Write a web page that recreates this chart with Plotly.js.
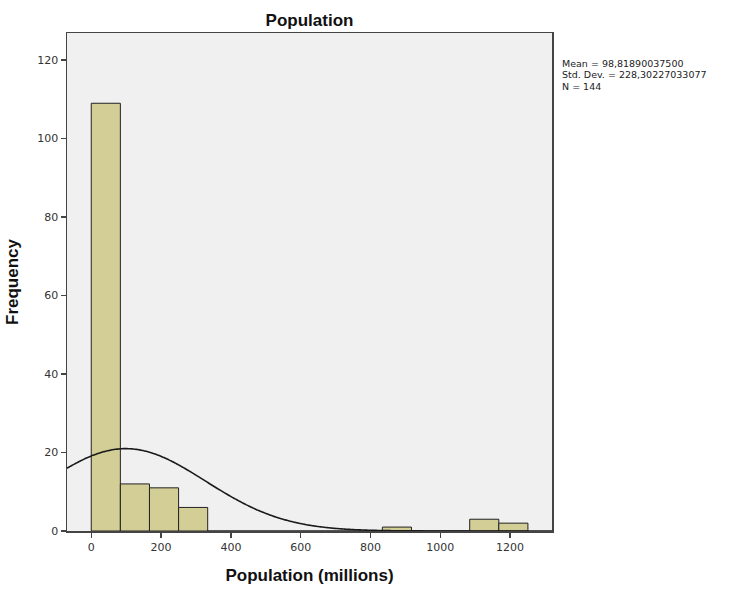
<!DOCTYPE html>
<html>
<head>
<meta charset="utf-8">
<script src="https://cdn.plot.ly/plotly-3.0.1.min.js"></script>
<style>html,body{margin:0;padding:0;background:#fff;}#chart{width:729px;height:589px;}</style>
</head>
<body>
<div id="chart"></div>
<script>
// Histogram data (bins of equal width starting at 0)
const binWidth = 83.4;
const counts = [109, 12, 11, 6, 0, 0, 0, 0, 0, 0, 1, 0, 0, 3, 2];
// Summary statistics shown on the chart
const meanVal = 98.81890037500;
const sdVal = 228.30227033077;
const nVal = 144;
const statLines = ["Mean = 98,81890037500", "Std. Dev. = 228,30227033077", "N = 144"];

const xRange = [-69.5, 1320];
const yRange = [0, 126.9];

const barX = counts.map((c, i) => (i + 0.5) * binWidth);

// Normal curve implied by the stated mean, SD and N (scaled to bin width)
const curveX = [], curveY = [];
for (let k = 0; k <= 300; k++) {
  const x = xRange[0] + (xRange[1] - xRange[0]) * k / 300;
  const z = (x - meanVal) / sdVal;
  curveX.push(x);
  curveY.push(nVal * binWidth * Math.exp(-0.5 * z * z) / (sdVal * Math.sqrt(2 * Math.PI)));
}

const traces = [
  {
    type: 'bar', x: barX, y: counts, width: binWidth,
    marker: {color: '#d3cd96', line: {color: '#222', width: 1}},
    hoverinfo: 'x+y', showlegend: false
  },
  {
    type: 'scatter', mode: 'lines', x: curveX, y: curveY,
    line: {color: '#1a1a1a', width: 1.6, shape: 'spline'},
    showlegend: false, hoverinfo: 'skip'
  }
];

const tickFont = {family: 'DejaVu Sans, sans-serif', size: 11, color: '#333'};
const titleFont = {family: 'Liberation Sans, Arial, sans-serif', size: 17, color: '#111'};

const annotations = statLines.map((t, i) => ({
  xref: 'paper', yref: 'paper', x: 1.016, y: 0.953 - i * 0.0222,
  xanchor: 'left', yanchor: 'top', showarrow: false, align: 'left',
  text: t, font: {family: 'DejaVu Sans, sans-serif', size: 9.5, color: '#222'}
}));

const layout = {
  width: 729, height: 589,
  margin: {l: 67, r: 177, t: 33, b: 58, pad: 0},
  paper_bgcolor: '#ffffff', plot_bgcolor: '#f0f0f0',
  bargap: 0,
  title: {text: '<b>Population</b>', font: titleFont, x: 0.5, xanchor: 'center', xref: 'paper', yref: 'container', y: 0.966, yanchor: 'middle'},
  xaxis: {
    range: xRange, tickvals: [0, 200, 400, 600, 800, 1000, 1200],
    ticks: 'outside', ticklen: 5, tickcolor: '#444', tickwidth: 1.3,
    showline: true, linecolor: '#444', linewidth: 1.5, mirror: true,
    showgrid: false, zeroline: false, tickfont: tickFont,
    title: {text: '<b>Population (millions)</b>', font: titleFont, standoff: 16}
  },
  yaxis: {
    range: yRange, tickvals: [0, 20, 40, 60, 80, 100, 120],
    ticks: 'outside', ticklen: 5, tickcolor: '#444', tickwidth: 1.3,
    showline: true, linecolor: '#444', linewidth: 1.5, mirror: true,
    showgrid: false, zeroline: false, tickfont: tickFont,
    title: {text: '<b>Frequency</b>', font: titleFont, standoff: 14}
  },
  annotations: annotations
};

Plotly.newPlot('chart', traces, layout, {displayModeBar: false, staticPlot: true});
</script>
</body>
</html>
